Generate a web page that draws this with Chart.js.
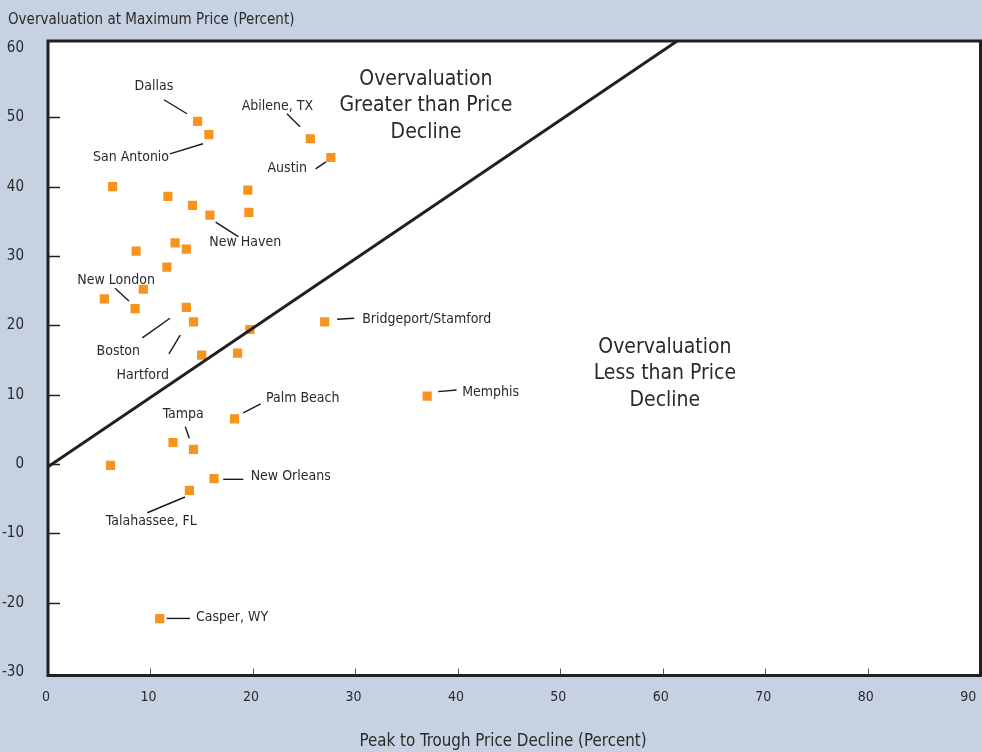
<!DOCTYPE html>
<html>
<head>
<meta charset="utf-8">
<script src="https://cdn.jsdelivr.net/npm/chart.js@4.4.1/dist/chart.umd.min.js"></script>
<style>
  html, body { margin: 0; padding: 0; background: #c6d1e2; }
  #wrap { width: 982px; height: 752px; }
</style>
</head>
<body>
<div id="wrap"><canvas id="scatterChart" width="982" height="752"></canvas></div>
<script>
// metro areas: peak-to-trough price decline (x) vs overvaluation at peak (y)
const cityX = [14.6, 15.7, 25.6, 27.6, 6.3, 11.7, 19.5, 14.1, 15.8, 19.6, 8.6, 12.4, 13.5, 11.6, 5.5, 9.3,
               8.5, 13.5, 14.2, 19.7, 15.0, 18.5, 27.0, 37.0, 18.2, 12.2, 14.2, 6.1, 16.2, 13.8, 10.9];
const cityY = [49.4, 47.5, 46.9, 44.2, 40.0, 38.6, 39.5, 37.3, 35.9, 36.3, 30.7, 31.9, 31.0, 28.4, 23.8, 25.2,
               22.4, 22.6, 20.5, 19.4, 15.7, 16.0, 20.5, 9.8, 6.5, 3.1, 2.1, -0.2, -2.1, -3.8, -22.3];

const xTicks = [0, 10, 20, 30, 40, 50, 60, 70, 80, 90];
const yTicks = [-30, -20, -10, 0, 10, 20, 30, 40, 50, 60];

// overvaluation == price decline (as drawn in the source)
const parityX = [0, 91];
const parityY = [-0.4, 90.6];

// callout text: name, text anchor (data units), alignment, leader line ends (data units)
const calloutNames = ['Dallas', 'San Antonio', 'Abilene, TX', 'Austin', 'New Haven', 'New London', 'Boston',
  'Hartford', 'Bridgeport/Stamford', 'Memphis', 'Palm Beach', 'Tampa', 'New Orleans', 'Talahassee, FL', 'Casper, WY'];
const calloutTextX = [10.34, 8.1, 22.39, 23.35, 19.25, 6.65, 6.86, 9.25, 30.66, 40.42, 21.27, 13.2, 19.78, 10.08, 14.44];
const calloutTextY = [54.4, 44.16, 51.56, 42.67, 31.93, 26.55, 16.2, 12.84, 20.92, 10.35, 9.48, 7.17, -1.83, -8.33, -22.12];
const calloutAlign = ['center', 'center', 'center', 'center', 'center', 'center', 'center', 'center',
  'left', 'left', 'left', 'center', 'left', 'center', 'left'];
const leaderX1 = [11.32, 11.9, 23.32, 26.12, 16.36, 6.54, 9.2, 11.8, 28.22, 38.08, 19.05, 13.4, 17.1, 9.69, 11.58];
const leaderY1 = [52.53, 44.73, 50.5, 42.57, 34.88, 25.35, 18.18, 15.87, 20.88, 10.43, 7.36, 5.38, -2.21, -7.03, -22.27];
const leaderX2 = [13.56, 15.12, 24.59, 27.12, 18.57, 7.9, 11.9, 12.9, 29.88, 39.87, 20.75, 13.79, 19.05, 13.37, 13.85];
const leaderY2 = [50.51, 46.18, 48.63, 43.58, 32.8, 23.52, 21.02, 18.57, 21.02, 10.68, 8.66, 3.71, -2.21, -4.76, -22.27];

const regionLines = [
  ['Overvaluation', 'Greater than Price', 'Decline'],
  ['Overvaluation', 'Less than Price', 'Decline']
];
const regionX = [36.88, 60.2];
const regionY = [51.66, 12.99];

const FONT = "'DejaVu Sans Condensed', 'DejaVu Sans', sans-serif";
const INK = '#2a2a2a';
const FRAME = '#231f20';

const plotBackground = {
  id: 'plotBackground',
  beforeDatasetsDraw(chart) {
    const a = chart.chartArea;
    chart.ctx.save();
    chart.ctx.fillStyle = '#ffffff';
    chart.ctx.fillRect(a.left, a.top, a.right - a.left, a.bottom - a.top);
    chart.ctx.restore();
  }
};

const overlay = {
  id: 'overlay',
  afterDatasetsDraw(chart) {
    const ctx = chart.ctx;
    const area = chart.chartArea;
    const xs = chart.scales.x;
    const ys = chart.scales.y;
    ctx.save();

    // inner tick marks
    ctx.strokeStyle = FRAME;
    ctx.lineWidth = 1.5;
    yTicks.slice(1, -1).forEach(v => {
      const py = Math.round(ys.getPixelForValue(v)) + 0.5;
      ctx.beginPath();
      ctx.moveTo(area.left, py);
      ctx.lineTo(area.left + 12, py);
      ctx.stroke();
    });
    ctx.strokeStyle = '#555';
    ctx.lineWidth = 1;
    xTicks.slice(1, -1).forEach(v => {
      const px = Math.round(xs.getPixelForValue(v)) + 0.5;
      ctx.beginPath();
      ctx.moveTo(px, area.bottom);
      ctx.lineTo(px, area.bottom - 7);
      ctx.stroke();
    });

    // frame
    ctx.strokeStyle = FRAME;
    ctx.lineWidth = 3;
    ctx.strokeRect(area.left, area.top, area.right - area.left, area.bottom - area.top);

    // leader lines
    ctx.lineWidth = 1.4;
    ctx.strokeStyle = '#1a1a1a';
    calloutNames.forEach((name, i) => {
      ctx.beginPath();
      ctx.moveTo(xs.getPixelForValue(leaderX1[i]), ys.getPixelForValue(leaderY1[i]));
      ctx.lineTo(xs.getPixelForValue(leaderX2[i]), ys.getPixelForValue(leaderY2[i]));
      ctx.stroke();
    });

    // callout names
    ctx.fillStyle = INK;
    ctx.font = '14px ' + FONT;
    ctx.textBaseline = 'middle';
    calloutNames.forEach((name, i) => {
      ctx.textAlign = calloutAlign[i];
      ctx.fillText(name, xs.getPixelForValue(calloutTextX[i]), ys.getPixelForValue(calloutTextY[i]));
    });

    // region notes
    ctx.font = '21px ' + FONT;
    ctx.textAlign = 'center';
    regionLines.forEach((lines, i) => {
      const cx = xs.getPixelForValue(regionX[i]);
      const cy = ys.getPixelForValue(regionY[i]);
      lines.forEach((t, j) => ctx.fillText(t, cx, cy + (j - 1) * 26.5));
    });

    // axis titles
    ctx.font = '15px ' + FONT;
    ctx.textAlign = 'left';
    ctx.fillText('Overvaluation at Maximum Price (Percent)', 8, 20);
    ctx.font = '16.8px ' + FONT;
    ctx.textAlign = 'center';
    ctx.fillText('Peak to Trough Price Decline (Percent)', 503, 742);
    ctx.restore();
  }
};

const ctx = document.getElementById('scatterChart').getContext('2d');
const chart = new Chart(ctx, {
  type: 'scatter',
  data: {
    datasets: [
      {
        type: 'line',
        data: parityX.map((x, i) => ({ x: x, y: parityY[i] })),
        borderColor: FRAME,
        borderWidth: 3,
        pointRadius: 0,
        fill: false
      },
      {
        data: cityX.map((x, i) => ({ x: x, y: cityY[i] })),
        pointStyle: 'rect',
        pointRadius: 6.5,
        pointHoverRadius: 6.5,
        backgroundColor: '#f7941d',
        borderWidth: 0
      }
    ]
  },
  options: {
    responsive: false,
    animation: false,
    devicePixelRatio: 1,
    layout: { autoPadding: false, padding: { top: 41, right: 1.5, left: 0, bottom: 0 } },
    plugins: {
      legend: { display: false },
      tooltip: { enabled: false }
    },
    scales: {
      x: {
        type: 'linear',
        min: 0,
        max: 91,
        grid: { display: false, drawTicks: false },
        border: { display: false },
        afterBuildTicks: s => { s.ticks = xTicks.map(v => ({ value: v })); },
        afterFit: s => { s.height = 76.5; s.paddingLeft = 0; s.paddingRight = 0; },
        ticks: {
          padding: 13,
          labelOffset: -2,
          color: INK,
          font: { family: FONT, size: 14 }
        }
      },
      y: {
        min: -30.5,
        max: 61,
        grid: { display: false, drawTicks: false },
        border: { display: false },
        afterBuildTicks: s => { s.ticks = yTicks.map(v => ({ value: v })); },
        afterFit: s => { s.width = 48; s.paddingTop = 0; s.paddingBottom = 0; },
        ticks: {
          padding: 24,
          color: INK,
          font: { family: FONT, size: 15 }
        }
      }
    }
  },
  plugins: [plotBackground, overlay]
});
</script>
</body>
</html>
